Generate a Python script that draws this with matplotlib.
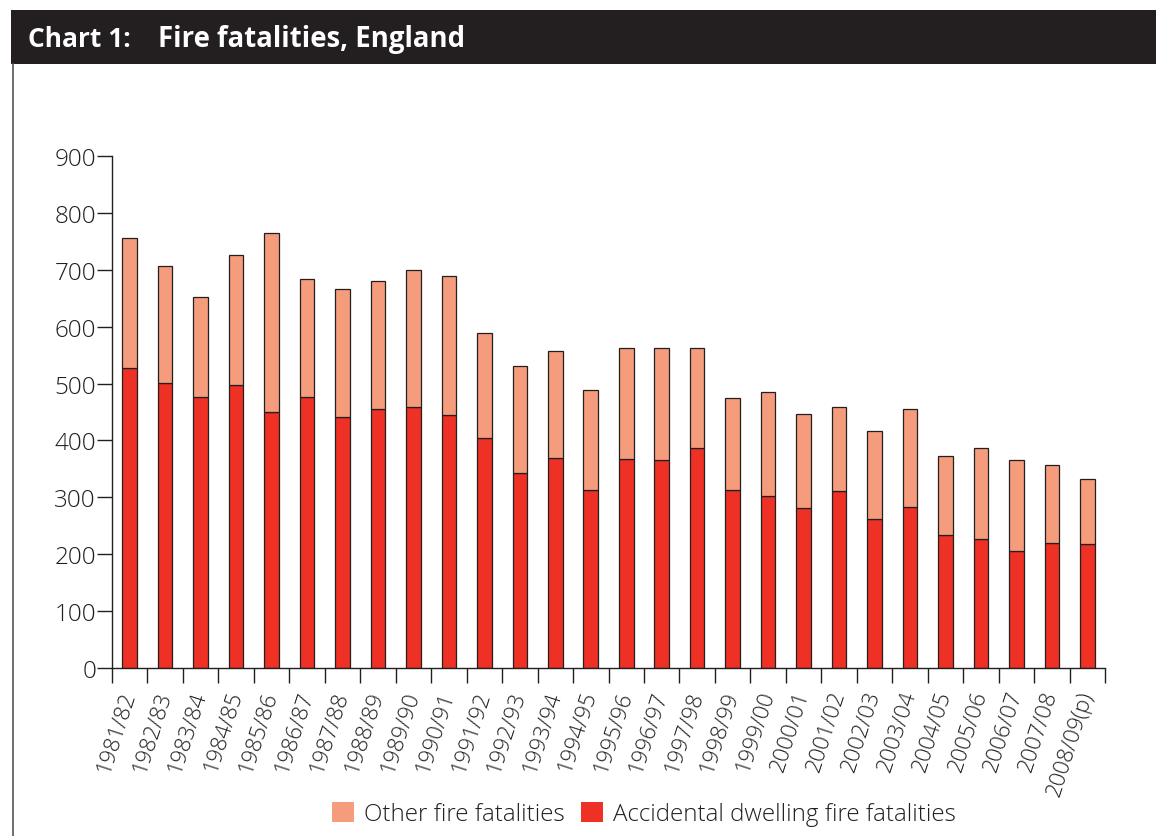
import matplotlib
matplotlib.use("Agg")
import matplotlib.pyplot as plt
import numpy as np
from matplotlib.patches import Rectangle, Patch
from matplotlib.lines import Line2D

# ---- data ----
years = ["1981/82", "1982/83", "1983/84", "1984/85", "1985/86", "1986/87", "1987/88",
         "1988/89", "1989/90", "1990/91", "1991/92", "1992/93", "1993/94", "1994/95",
         "1995/96", "1996/97", "1997/98", "1998/99", "1999/00", "2000/01", "2001/02",
         "2002/03", "2003/04", "2004/05", "2005/06", "2006/07", "2007/08", "2008/09(p)"]
accidental = [528, 501, 477, 497, 450, 476, 442, 456, 458, 445, 405, 343, 370, 313,
              367, 366, 386, 313, 302, 282, 311, 262, 283, 234, 227, 206, 220, 218]
other = [228, 206, 176, 229, 315, 207, 224, 225, 242, 244, 184, 187, 188, 176,
         195, 196, 176, 162, 183, 165, 148, 155, 172, 138, 160, 159, 137, 115]
yticks = [0, 100, 200, 300, 400, 500, 600, 700, 800, 900]
series_names = ["Other fire fatalities", "Accidental dwelling fire fatalities"]
title_num = "Chart 1:"
title_text = "Fire fatalities, England"

# ---- style ----
W, H = 1156, 837
plt.rcParams['font.family'] = ['Open Sans', 'DejaVu Sans']
dark = '#231f20'
c_other = '#f59c7c'
c_acc = '#ee3124'

fig = plt.figure(figsize=(W / 100, H / 100), dpi=100)
fig.patch.set_facecolor('white')

# header bar
fig.patches.append(Rectangle((10.7 / W, 1 - 65 / H), 1 - 10.7 / W, (65 - 10.7) / H,
                             transform=fig.transFigure, facecolor=dark, edgecolor='none'))
fig.text(28 / W, 1 - 47 / H, title_num, color='white', fontsize=19, fontweight='bold',
         ha='left', va='baseline')
fig.text(158 / W, 1 - 47 / H, title_text, color='white', fontsize=19.8, fontweight='bold',
         ha='left', va='baseline')
# left frame line
fig.add_artist(Line2D([12.7 / W, 12.7 / W], [0, 1 - 65 / H], transform=fig.transFigure,
                      color='#555555', lw=1.2))

# axes
ax = fig.add_axes([112 / W, 1 - 669 / H, (1105 - 112) / W, (669 - 157) / H])
x = np.arange(len(years))
bw = 0.41
ax.bar(x, accidental, width=bw, color=c_acc, edgecolor=dark, linewidth=0.9, zorder=2)
ax.bar(x, other, width=bw, bottom=accidental, color=c_other, edgecolor=dark,
       linewidth=0.9, zorder=2)

ax.set_xlim(-0.5, len(years) - 0.5)
ax.set_ylim(0, 900)
for s in ['top', 'right']:
    ax.spines[s].set_visible(False)
for s in ['left', 'bottom']:
    ax.spines[s].set_color(dark)
    ax.spines[s].set_linewidth(1.0)

ax.set_yticks(yticks)
ax.set_yticklabels([str(v) for v in yticks])
ax.tick_params(axis='y', length=10.5, width=1.0, color=dark, pad=1,
               labelsize=17.5, labelcolor=dark)

ax.set_xticks(x)
ax.set_xticklabels(years, rotation=72, ha='right', va='center', rotation_mode='anchor',
                   fontweight='light')
ax.tick_params(axis='x', which='major', length=0, pad=16.5, labelsize=16, labelcolor=dark)
ax.set_xticks(np.arange(-0.5, len(years), 1.0), minor=True)
ax.tick_params(axis='x', which='minor', length=10.5, width=1.0, color=dark, direction='out')
for t in ax.get_yticklabels():
    t.set_fontweight('light')

# legend
handles = [Patch(facecolor=c_other, edgecolor='none'), Patch(facecolor=c_acc, edgecolor='none')]
leg = fig.legend(handles, series_names, loc='center', bbox_to_anchor=(644 / W, 1 - 815 / H),
                 ncol=2, frameon=False, fontsize=17.4, handlelength=0.92, handleheight=0.92,
                 handletextpad=0.42, columnspacing=0.66, borderaxespad=0, borderpad=0)
for t in leg.get_texts():
    t.set_color(dark)
    t.set_fontweight('light')

fig.savefig('out.png', dpi=100)
